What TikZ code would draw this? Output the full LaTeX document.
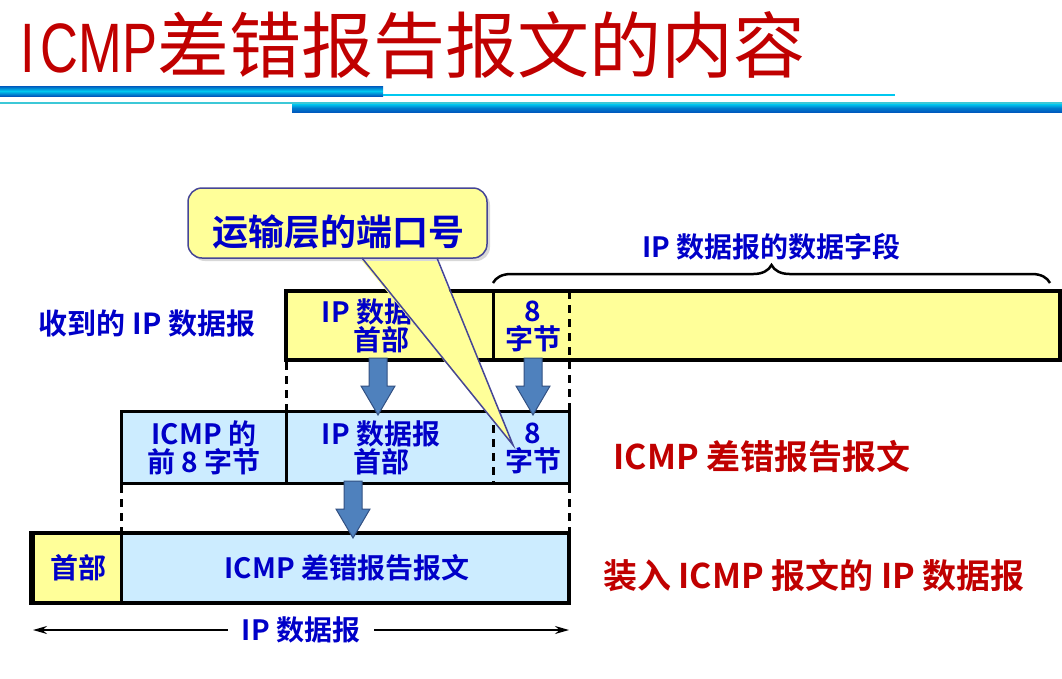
\documentclass[tikz,border=0pt]{standalone}
\usepackage{fontspec}
\setmainfont{Noto Sans CJK SC}[BoldFont={Noto Sans CJK SC Bold}]
\newfontfamily\titlecjk{Noto Sans CJK SC}
\newfontfamily\titlelat{Liberation Sans}[FakeStretch=0.75]
\usetikzlibrary{decorations.pathreplacing,shadows,arrows.meta}
\definecolor{tred}{RGB}{192,0,0}
\definecolor{tblue}{RGB}{0,0,200}
\definecolor{pyellow}{RGB}{255,255,153}
\definecolor{pblue}{RGB}{204,236,255}
\definecolor{afill}{RGB}{79,129,189}
\definecolor{aedge}{RGB}{50,80,130}
\definecolor{cedge}{RGB}{70,70,150}
\definecolor{barblue}{RGB}{0,90,190}
\definecolor{barcyan}{RGB}{0,200,240}
\definecolor{lcyan}{RGB}{60,200,215}
\tikzset{
  txt/.style={inner sep=0, text=tblue, font=\bfseries\fontsize{28}{28}\selectfont, align=center},
  redlbl/.style={inner sep=0, text=tred, font=\bfseries\fontsize{34}{34}\selectfont},
  rowbox/.style={draw=black, line width=4pt, inner sep=0},
  divider/.style={draw=black, line width=3pt},
  dashdiv/.style={draw=black, line width=3pt, dash pattern=on 8pt off 6pt},
  barrowstyle/.style={fill=afill, draw=aedge, line width=1pt},
  barrow/.pic={\path[barrowstyle] (-9,0) -- (-9,28) -- (-17,28) -- (0,57) -- (17,28) -- (9,28) -- (9,0) -- cycle;}
}
\begin{document}
\begin{tikzpicture}[x=1pt,y=-1pt]
\useasboundingbox (0,0) rectangle (1062,678);
% title
\node[anchor=base west, text=tred, inner sep=0] (title) at (20,72)
  {{\titlelat\fontsize{70}{70}\selectfont I\kern6pt CMP}{\titlecjk\fontsize{72}{72}\selectfont 差错报告报文的内容}};
\shade[top color=barblue, bottom color=barblue, middle color=barcyan] (0,86) rectangle (383,96);
\fill[barcyan] (383,93.5) rectangle (895,96);
\fill[lcyan] (0,102) rectangle (1062,104);
\shade[top color=barcyan, bottom color=barblue, middle color=barblue!70!barcyan] (292,104) rectangle (1062,112);

% row 1
\node[rowbox, fill=pyellow, minimum width=774pt, minimum height=69pt] (row1) at (673,325.5) {};
\coordinate (d1t) at (493,291); \coordinate (d1b) at (493,360);
\draw[divider] (d1t) -- (d1b);
\node[txt] (r1hdr) at (381,326) {IP 数据报\\首部};
\node[txt] (r1b8) at (533,326) {8\\字节};
\node[txt, font=\bfseries\fontsize{29}{29}\selectfont] (lbl1) at (147,324) {收到的 IP 数据报};
\coordinate (br1) at (493,283); \coordinate (br2) at (1050,283);
\draw[line width=2.5pt, decorate, decoration={brace, amplitude=18pt}] (br1) -- (br2)
  node[midway, yshift=36pt, txt] (datalbl) {IP 数据报的数据字段};

% row 2
\node[rowbox, line width=3pt, fill=pblue, minimum width=448pt, minimum height=72pt] (row2) at (345,447) {};
\coordinate (d2t) at (286,411); \coordinate (d2b) at (286,483);
\draw[divider] (d2t) -- (d2b);
\coordinate (d3t) at (493,411); \coordinate (d3b) at (493,483);
\draw[dashdiv] (d3t) -- (d3b);
\node[txt] (r2icmp) at (204,448) {ICMP 的\\前 8 字节};
\node[txt] (r2hdr) at (381,448) {IP 数据报\\首部};
\node[txt] (r2b8) at (533,448) {8\\字节};
\node[redlbl] (lbl2) at (762,456) {ICMP 差错报告报文};

% dashed links row1 -> row2
\coordinate (v1t) at (286,362); \coordinate (v1b) at (286,411);
\draw[dashdiv] (v1t) -- (v1b);
\coordinate (v2t) at (569,291); \coordinate (v2b) at (569,411);
\draw[dashdiv] (v2t) -- (v2b);

% row 3
\node[rowbox, fill=pblue, minimum width=536pt, minimum height=70pt] (row3) at (301,568) {};
\fill[pyellow] (35,535) rectangle (121,601);
\coordinate (d4t) at (121,533); \coordinate (d4b) at (121,603);
\draw[divider] (d4t) -- (d4b);
\draw[line width=4pt] (31,533) rectangle (569,603);
\node[txt] (r3hdr) at (78,568) {首部};
\node[txt] (r3msg) at (347,568) {ICMP 差错报告报文};
\node[redlbl] (lbl3) at (814,576) {装入 ICMP 报文的 IP 数据报};

% dashed links row2 -> row3
\coordinate (v3t) at (121,485); \coordinate (v3b) at (121,533);
\draw[dashdiv] (v3t) -- (v3b);
\coordinate (v4t) at (569,485); \coordinate (v4b) at (569,533);
\draw[dashdiv] (v4t) -- (v4b);

% block arrows
\pic at (378,358) {barrow};
\pic at (533,358) {barrow};
\pic at (353,481) {barrow};

% bottom dimension
\coordinate (dl) at (33,630); \coordinate (dr) at (569,630);
\draw[line width=1.5pt, {Stealth[length=14pt,width=8pt]}-{Stealth[length=14pt,width=8pt]}] (dl) -- (dr)
  node[txt, midway, fill=white, inner xsep=14pt, inner ysep=2pt] (iplbl) {IP 数据报};

% callout
\node[draw=cedge, line width=1.5pt, fill=pyellow, rounded corners=14pt,
      minimum width=299pt, minimum height=70pt, inner sep=0,
      drop shadow={shadow xshift=3pt, shadow yshift=-3pt, fill=black!30}] (callout) at (337.5,223) {};
\coordinate (pA) at (362,258); \coordinate (pB) at (437,258); \coordinate (tip) at (513,445);
\fill[pyellow] ([yshift=-3pt]pA) -- (tip) -- ([yshift=-3pt]pB) -- cycle;
\draw[cedge, line width=1.5pt] (pA) -- (tip) -- (pB);
\node[txt, font=\bfseries\fontsize{36}{36}\selectfont] (ctext) at (338,232) {运输层的端口号};
\end{tikzpicture}
\end{document}
